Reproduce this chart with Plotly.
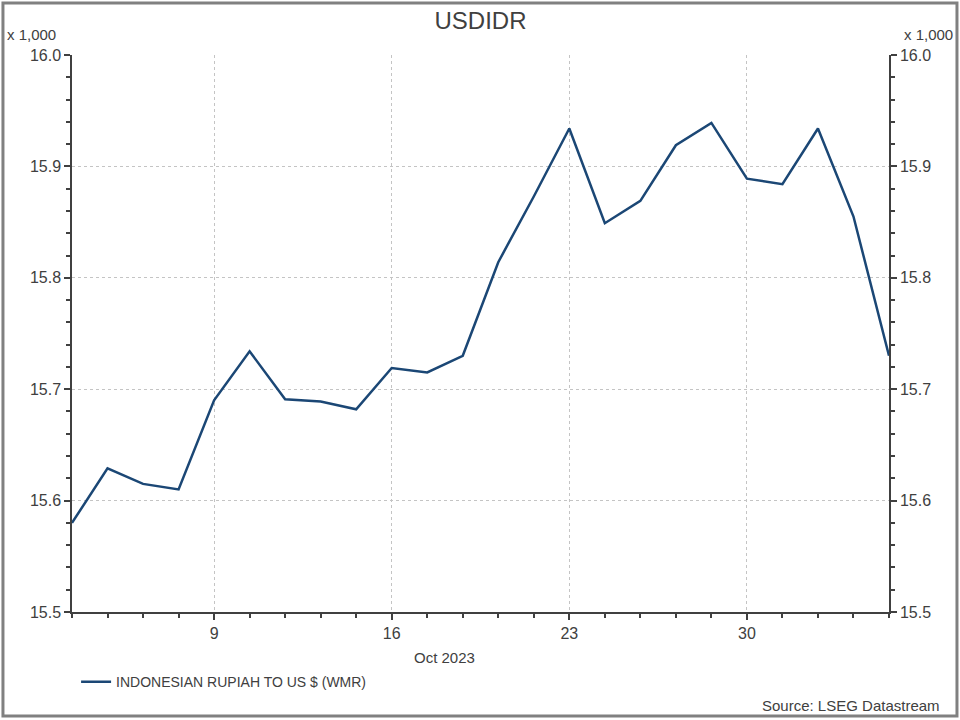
import plotly.graph_objects as go

dates = ["2023-10-03", "2023-10-04", "2023-10-05", "2023-10-06",
         "2023-10-09", "2023-10-10", "2023-10-11", "2023-10-12", "2023-10-13",
         "2023-10-16", "2023-10-17", "2023-10-18", "2023-10-19", "2023-10-20",
         "2023-10-23", "2023-10-24", "2023-10-25", "2023-10-26", "2023-10-27",
         "2023-10-30", "2023-10-31", "2023-11-01", "2023-11-02", "2023-11-03"]
usdidr = [15580, 15629, 15615, 15610,
          15690, 15734, 15691, 15689, 15682,
          15719, 15715, 15730, 15814, 15873,
          15934, 15849, 15869, 15919, 15939,
          15889, 15884, 15934, 15855, 15730]
series_name = "INDONESIAN RUPIAH TO US $ (WMR)"
major_ticks = ["2023-10-09", "2023-10-16", "2023-10-23", "2023-10-30"]
major_text = ["9", "16", "23", "30"]

vals_k = [v / 1000 for v in usdidr]

FONT = "Liberation Sans, Arial, sans-serif"
TXT = "#404040"
AX = "#404040"
GRID = "#c4c4c4"

fig = go.Figure()
fig.add_trace(go.Scatter(x=dates, y=vals_k, mode="lines", name=series_name,
                         line=dict(color="#1b4775", width=2.5)))
fig.add_trace(go.Scatter(x=dates, y=vals_k, mode="lines", yaxis="y2",
                         line=dict(width=0, color="rgba(0,0,0,0)"),
                         showlegend=False, hoverinfo="skip"))

common_y = dict(range=[15.5, 16.0], dtick=0.1, tick0=15.5, tickformat=".1f",
                ticks="outside", ticklen=6, tickwidth=1.5, tickcolor=AX,
                showline=True, linecolor=AX, linewidth=1.5,
                tickfont=dict(family=FONT, size=16, color=TXT),
                minor=dict(dtick=0.02, tick0=15.5, ticks="outside", ticklen=4,
                           tickcolor=AX, tickwidth=1.5, showgrid=False),
                zeroline=False)

fig.update_layout(
    width=960, height=720,
    paper_bgcolor="white", plot_bgcolor="white",
    margin=dict(l=72, r=71, t=55, b=108, autoexpand=False),
    title=dict(text="USDIDR", x=0.5, xref="paper", xanchor="center",
               y=0.972, yanchor="middle",
               font=dict(family=FONT, size=24, color=TXT)),
    xaxis=dict(type="date", range=["2023-10-03", "2023-11-03"],
               rangebreaks=[dict(bounds=["sat", "mon"])],
               tickmode="array", tickvals=major_ticks, ticktext=major_text,
               ticks="outside", ticklen=6, tickwidth=1.5, tickcolor=AX,
               showline=True, linecolor=AX, linewidth=1.5, mirror=False,
               showgrid=True, gridcolor=GRID, griddash="dot", gridwidth=1,
               tickfont=dict(family=FONT, size=16, color=TXT),
               minor=dict(tickmode="array", tickvals=dates, ticks="outside",
                          ticklen=4, tickwidth=1.5, tickcolor=AX, showgrid=False),
               zeroline=False),
    yaxis=dict(**common_y, side="left", showgrid=True, gridcolor=GRID,
               griddash="dot", gridwidth=1),
    yaxis2=dict(**common_y, side="right", overlaying="y", matches="y",
                showgrid=False),
    showlegend=True,
    legend=dict(x=0.005, xanchor="left", y=-0.126, yanchor="middle",
                orientation="h", bgcolor="rgba(0,0,0,0)",
                font=dict(family=FONT, size=14, color=TXT)),
)

annots = [
    dict(text="x 1,000", x=-0.082, y=1.036, xanchor="left"),
    dict(text="x 1,000", x=1.081, y=1.036, xanchor="right"),
    dict(text="Oct 2023", x=0.456, y=-0.081, xanchor="center"),
    dict(text="Source: LSEG Datastream", x=1.065, y=-0.168, xanchor="right"),
]
for a in annots:
    fig.add_annotation(text=a["text"], x=a["x"], y=a["y"], xref="paper", yref="paper",
                       xanchor=a["xanchor"], yanchor="middle", showarrow=False,
                       font=dict(family=FONT, size=15, color=TXT))

fig.add_shape(type="rect", xref="paper", yref="paper",
              x0=-0.0845, x1=1.0832, y0=-0.1867, y1=1.0934,
              line=dict(color="#808080", width=3), layer="below")

fig.write_html("out.html", config={"displayModeBar": False},
               post_script="document.body.style.margin='0';document.body.style.padding='0';")
